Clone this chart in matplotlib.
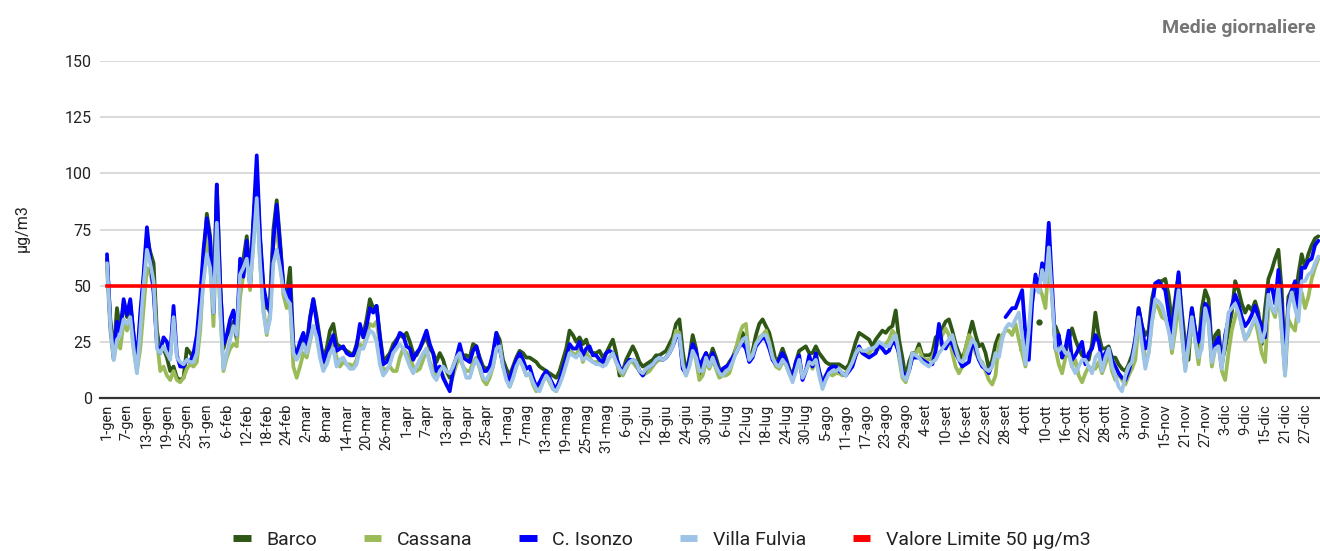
import numpy as np
import matplotlib
matplotlib.use("Agg")
import matplotlib.pyplot as plt

nan = np.nan

mesi = ['gen', 'feb', 'mar', 'apr', 'mag', 'giu', 'lug', 'ago', 'set', 'ott', 'nov', 'dic']
giorni_mese = [31, 28, 31, 30, 31, 30, 31, 31, 30, 31, 30, 31]

barco = [
    62, 35, 20, 40, 30, 42, 36, 42, 28, 14,
    35, 52, 72, 65, 60, 30, 21, 22, 18, 12,
    14, 9, 8, 9, 22, 20, 18, 24, 42, 62,
    82, 72, 40, 95, 52, 22, 28, 30, 34, 26,
    58, 62, 72, 55, 78, 100, 70, 48, 40, 45,
    75, 88, 70, 50, 46, 58, 24, 18, 20, 28,
    24, 36, 44, 36, 26, 18, 22, 30, 33, 24,
    23, 22, 21, 20, 19, 24, 30, 28, 35, 44,
    40, 41, 28, 17, 18, 20, 24, 26, 28, 27,
    29, 25, 20, 19, 22, 25, 27, 22, 20, 16,
    20, 17, 12, 9, 14, 18, 21, 19, 19, 18,
    24, 23, 18, 14, 13, 14, 19, 29, 26, 17,
    13, 10, 14, 18, 21, 20, 18, 18, 17, 16,
    14, 13, 12, 11, 10, 9, 12, 17, 22, 30,
    28, 25, 27, 24, 26, 21, 20, 20, 21, 18,
    20, 23, 26, 20, 10, 12, 17, 20, 23, 20,
    16, 14, 15, 16, 17, 19, 19, 20, 21, 24,
    27, 33, 35, 21, 11, 18, 28, 22, 10, 16,
    20, 17, 22, 18, 13, 11, 13, 16, 18, 22,
    26, 29, 25, 17, 21, 28, 33, 35, 32, 29,
    23, 16, 18, 22, 18, 13, 10, 16, 21, 22,
    23, 20, 20, 23, 20, 18, 16, 15, 15, 15,
    15, 14, 13, 15, 20, 25, 29, 28, 27, 26,
    23, 26, 28, 30, 29, 31, 32, 39, 26, 18,
    9, 16, 20, 20, 24, 19, 19, 19, 20, 27,
    28, 31, 34, 35, 30, 24, 20, 17, 22, 28,
    34, 28, 23, 24, 20, 13, 17, 24, 28, nan,
    nan, nan, nan, nan, nan, 22, nan, nan, nan, nan,
    34, nan, nan, nan, nan, 32, 28, 18, 20, 26,
    31, 26, 22, 19, 18, 17, 24, 38, 28, 22,
    22, 23, 18, 18, 15, 13, 12, 15, 19, 26,
    40, 32, 28, 30, 44, 51, 52, 52, 53, 46,
    34, 44, 55, 38, 24, 17, 40, 30, 22, 40,
    48, 44, 22, 28, 30, 16, 22, 30, 38, 52,
    48, 42, 38, 41, 39, 43, 38, 24, 40, 53,
    57, 62, 66, 48, 12, 45, 48, 42, 55, 64,
    58, 64, 68, 71, 72,
]

cassana = [
    58, 30, 17, 26, 22, 34, 30, 36, 22, 12,
    22, 40, 58, 55, 50, 26, 12, 14, 10, 8,
    12, 8, 7, 9, 13, 15, 14, 16, 30, 55,
    72, 60, 32, 78, 40, 12, 18, 22, 24, 23,
    45, 55, 68, 48, 70, 92, 60, 40, 28, 38,
    68, 75, 62, 46, 40, 44, 14, 9, 14, 20,
    18, 25, 32, 28, 20, 14, 15, 20, 24, 18,
    14, 16, 15, 15, 14, 17, 24, 22, 28, 33,
    32, 34, 24, 12, 13, 14, 12, 12, 18, 22,
    20, 18, 14, 12, 13, 17, 22, 16, 13, 10,
    12, 10, 6, 5, 10, 15, 18, 14, 12, 12,
    16, 18, 13, 8, 6, 9, 14, 22, 24, 14,
    10, 5, 9, 14, 18, 14, 10, 11, 6, 3,
    6, 9, 10, 7, 4, 3, 7, 11, 16, 21,
    20, 19, 22, 16, 20, 18, 16, 16, 16, 15,
    16, 18, 20, 16, 12, 10, 13, 16, 16, 14,
    12, 10, 11, 12, 14, 16, 17, 17, 18, 21,
    24, 30, 29, 14, 10, 15, 22, 17, 8, 10,
    16, 13, 17, 13, 9, 10, 10, 11, 16, 22,
    28, 32, 33, 17, 19, 24, 27, 28, 30, 25,
    18, 14, 13, 16, 15, 11, 8, 12, 17, 10,
    12, 16, 13, 17, 12, 8, 10, 11, 10, 11,
    11, 10, 11, 13, 15, 19, 22, 20, 19, 20,
    22, 21, 22, 23, 24, 26, 30, 28, 18, 9,
    7, 12, 18, 20, 22, 18, 17, 17, 18, 22,
    25, 28, 31, 28, 20, 14, 11, 14, 22, 28,
    26, 20, 17, 16, 12, 8, 6, 10, 24, 28,
    30, 30, 28, 33, 26, 20, 14, 30, 44, 52,
    50, 46, 40, 61, 45, 22, 15, 11, 18, 20,
    14, 17, 10, 7, 11, 14, 13, 13, 16, 11,
    15, 20, 12, 8, 11, 8, 6, 10, 13, 17,
    32, 28, 16, 20, 34, 42, 40, 36, 35, 33,
    20, 30, 43, 28, 13, 22, 33, 26, 15, 28,
    38, 34, 14, 22, 24, 12, 8, 20, 30, 36,
    41, 32, 26, 28, 32, 35, 28, 20, 16, 40,
    40, 36, 47, 30, 10, 35, 32, 30, 42, 47,
    40, 45, 53, 58, 62,
]

isonzo = [
    64, 33, 18, 34, 29, 44, 37, 44, 28, 16,
    38, 55, 76, 62, 47, 24, 20, 27, 25, 19,
    41, 19, 14, 14, 17, 16, 20, 28, 45, 66,
    80, 70, 38, 95, 50, 24, 28, 35, 39, 28,
    62, 54, 70, 50, 80, 108, 72, 50, 42, 38,
    70, 86, 68, 50, 44, 50, 22, 20, 25, 29,
    22, 35, 44, 34, 25, 16, 20, 24, 28, 21,
    22, 23, 20, 19, 19, 23, 33, 27, 32, 40,
    38, 41, 27, 15, 16, 19, 22, 25, 29, 28,
    23, 22, 17, 20, 22, 26, 30, 24, 20, 12,
    14, 9, 6, 3, 12, 18, 24, 18, 17, 16,
    21, 23, 17, 12, 12, 14, 20, 29, 22, 15,
    10, 8, 13, 17, 20, 17, 13, 14, 9, 5,
    7, 10, 12, 9, 6, 4, 8, 13, 18, 24,
    22, 22, 25, 19, 22, 23, 19, 19, 17, 16,
    20, 21, 20, 18, 14, 11, 15, 17, 17, 16,
    12, 10, 13, 14, 15, 17, 18, 17, 18, 20,
    23, 27, 28, 13, 11, 17, 24, 21, 14, 17,
    20, 15, 20, 16, 11, 13, 14, 15, 18, 20,
    23, 24, 22, 16, 18, 23, 25, 27, 26, 22,
    17, 15, 17, 20, 17, 12, 9, 16, 19, 8,
    12, 19, 14, 20, 12, 6, 10, 13, 14, 14,
    12, 11, 10, 12, 14, 19, 23, 20, 19, 18,
    19, 20, 24, 22, 20, 21, 25, 24, 20, 12,
    9, 12, 18, 18, 18, 17, 16, 15, 15, 21,
    33, 23, 22, 25, 24, 20, 17, 14, 15, 16,
    25, 22, 17, 14, 13, 11, 15, nan, nan, nan,
    36, 38, 40, 40, 44, 48, 28, 17, 42, 55,
    48, 60, 56, 78, 50, 22, 28, 18, 22, 30,
    17, 19, 22, 25, 15, 20, 22, 28, 25, 17,
    20, 22, 17, 14, 11, 9, 8, 12, 17, 26,
    40, 32, 22, 26, 40, 51, 52, 50, 48, 38,
    29, 42, 56, 35, 14, 28, 40, 30, 25, 34,
    42, 40, 18, 24, 27, 14, 28, 35, 41, 46,
    42, 36, 32, 34, 37, 41, 36, 32, 27, 48,
    50, 42, 57, 40, 14, 42, 48, 52, 38, 58,
    58, 61, 62, 68, 70,
]

villa_fulvia = [
    60, 32, 17, 26, 28, 35, 33, 36, 22, 11,
    30, 50, 66, 60, 52, 22, 20, 23, 20, 17,
    36, 18, 16, 15, 17, 16, 16, 20, 35, 52,
    64, 58, 38, 78, 40, 13, 20, 26, 32, 28,
    55, 58, 62, 50, 68, 89, 60, 38, 29, 35,
    60, 66, 58, 48, 44, 42, 20, 17, 20, 24,
    20, 26, 32, 27, 18, 12, 15, 20, 22, 14,
    17, 18, 15, 13, 13, 15, 22, 22, 26, 30,
    29, 25, 15, 10, 12, 15, 20, 22, 24, 22,
    18, 14, 11, 14, 17, 20, 22, 15, 10, 8,
    12, 14, 12, 11, 14, 18, 20, 14, 9, 9,
    14, 17, 14, 9, 8, 11, 14, 22, 23, 14,
    8, 5, 9, 14, 17, 14, 10, 11, 7, 4,
    3, 7, 10, 8, 4, 3, 6, 10, 15, 20,
    19, 18, 20, 17, 18, 17, 16, 15, 15, 14,
    15, 18, 20, 16, 13, 11, 14, 16, 17, 16,
    12, 11, 13, 14, 15, 17, 18, 17, 18, 20,
    23, 28, 28, 15, 10, 14, 21, 18, 12, 12,
    18, 14, 18, 14, 11, 10, 12, 13, 16, 20,
    23, 26, 27, 17, 19, 24, 26, 28, 28, 24,
    18, 15, 14, 17, 15, 11, 7, 12, 17, 9,
    12, 16, 15, 17, 10, 4, 8, 11, 12, 12,
    13, 11, 10, 13, 16, 20, 22, 21, 21, 22,
    22, 23, 25, 24, 23, 23, 26, 28, 20, 10,
    8, 12, 20, 19, 18, 16, 15, 14, 16, 17,
    20, 22, 24, 26, 28, 22, 17, 16, 18, 22,
    26, 24, 18, 15, 13, 12, 14, 20, 18, 26,
    31, 33, 32, 35, 38, 28, 15, 30, 50, 50,
    47, 57, 50, 67, 44, 22, 21, 23, 20, 20,
    14, 11, 14, 17, 17, 14, 11, 18, 20, 12,
    18, 22, 14, 10, 5, 3, 10, 14, 16, 24,
    36, 24, 13, 20, 34, 44, 43, 41, 36, 30,
    22, 36, 48, 30, 12, 24, 36, 25, 18, 22,
    40, 34, 16, 22, 23, 13, 25, 38, 40, 42,
    38, 32, 26, 29, 32, 36, 32, 25, 30, 46,
    40, 38, 50, 30, 10, 40, 47, 40, 34, 52,
    52, 55, 56, 60, 63,
]

valore_limite = 50

series_names = ['Barco', 'Cassana', 'C. Isonzo', 'Villa Fulvia']
series_values = [barco, cassana, isonzo, villa_fulvia]
series_colors = ['#2e5716', '#9bbb59', '#0000ff', '#9dc3e6']
limite_label = 'Valore Limite 50 µg/m3'

# day labels
labels = []
for m, n in zip(mesi, giorni_mese):
    for d in range(1, n + 1):
        labels.append(f'{d}-{m}')
n_days = len(labels)
days = np.arange(n_days)

plt.rcParams['font.family'] = ['Roboto', 'DejaVu Sans']

fig = plt.figure(figsize=(13.2, 5.51), dpi=100)
ax = fig.add_axes([100 / 1320, (551 - 398) / 551, 1220 / 1320, 337 / 551])

for name, vals, col in zip(series_names, series_values, series_colors):
    v = np.array(vals, dtype=float)
    ax.plot(days, v, color=col, lw=2.7, solid_joinstyle='round',
            solid_capstyle='round', label=name, zorder=3)
    # isolated points (no neighbours) shown as dots
    fin = np.isfinite(v)
    prev = np.r_[False, fin[:-1]]
    nxt = np.r_[fin[1:], False]
    iso = fin & ~prev & ~nxt
    if iso.any():
        ax.plot(days[iso], v[iso], 'o', color=col, ms=3.5, zorder=3)

ax.plot(days, np.full(n_days, valore_limite), color='#ff0000', lw=2.6,
        label=limite_label, zorder=4)

ax.set_xlim(-2.1, 364.5)
ax.set_ylim(0, 150)
ax.set_yticks([0, 25, 50, 75, 100, 125, 150])
ax.yaxis.grid(True, color='#d3d3d3', lw=1.2, zorder=0)
ax.set_axisbelow(True)
for s in ['top', 'right', 'left']:
    ax.spines[s].set_visible(False)
ax.spines['bottom'].set_color('#333333')
ax.spines['bottom'].set_linewidth(1.6)
ax.spines['bottom'].set_zorder(5)

tick_pos = days[::6]
ax.set_xticks(tick_pos)
ax.set_xticklabels([labels[i] for i in tick_pos], rotation=90, fontsize=10.5,
                   color='#222222')
ax.tick_params(axis='x', length=0, pad=4)
ax.tick_params(axis='y', length=0, pad=6, labelsize=11.5, labelcolor='#222222')

fig.text(22 / 1320, 1 - 228 / 551, 'µg/m3', rotation=90, ha='center', va='center',
         fontsize=11.5, color='#222222')
fig.text(1316 / 1320, 1 - 28 / 551, 'Medie giornaliere', ha='right', va='center',
         fontsize=14, fontweight='bold', color='#757575')

handles, labs = ax.get_legend_handles_labels()
keep = [i for i, l in enumerate(labs) if l in series_names + [limite_label]]
leg = fig.legend([handles[i] for i in keep], [labs[i] for i in keep],
                 loc='center', bbox_to_anchor=(662 / 1320, 1 - 540 / 551),
                 ncol=5, frameon=False, fontsize=14, handlelength=0.9,
                 handletextpad=0.8, columnspacing=2.4)
for h in leg.legend_handles:
    h.set_linewidth(5)
    h.set_solid_capstyle('butt')
for t in leg.get_texts():
    t.set_color('#222222')

fig.savefig('out.png', dpi=100)
